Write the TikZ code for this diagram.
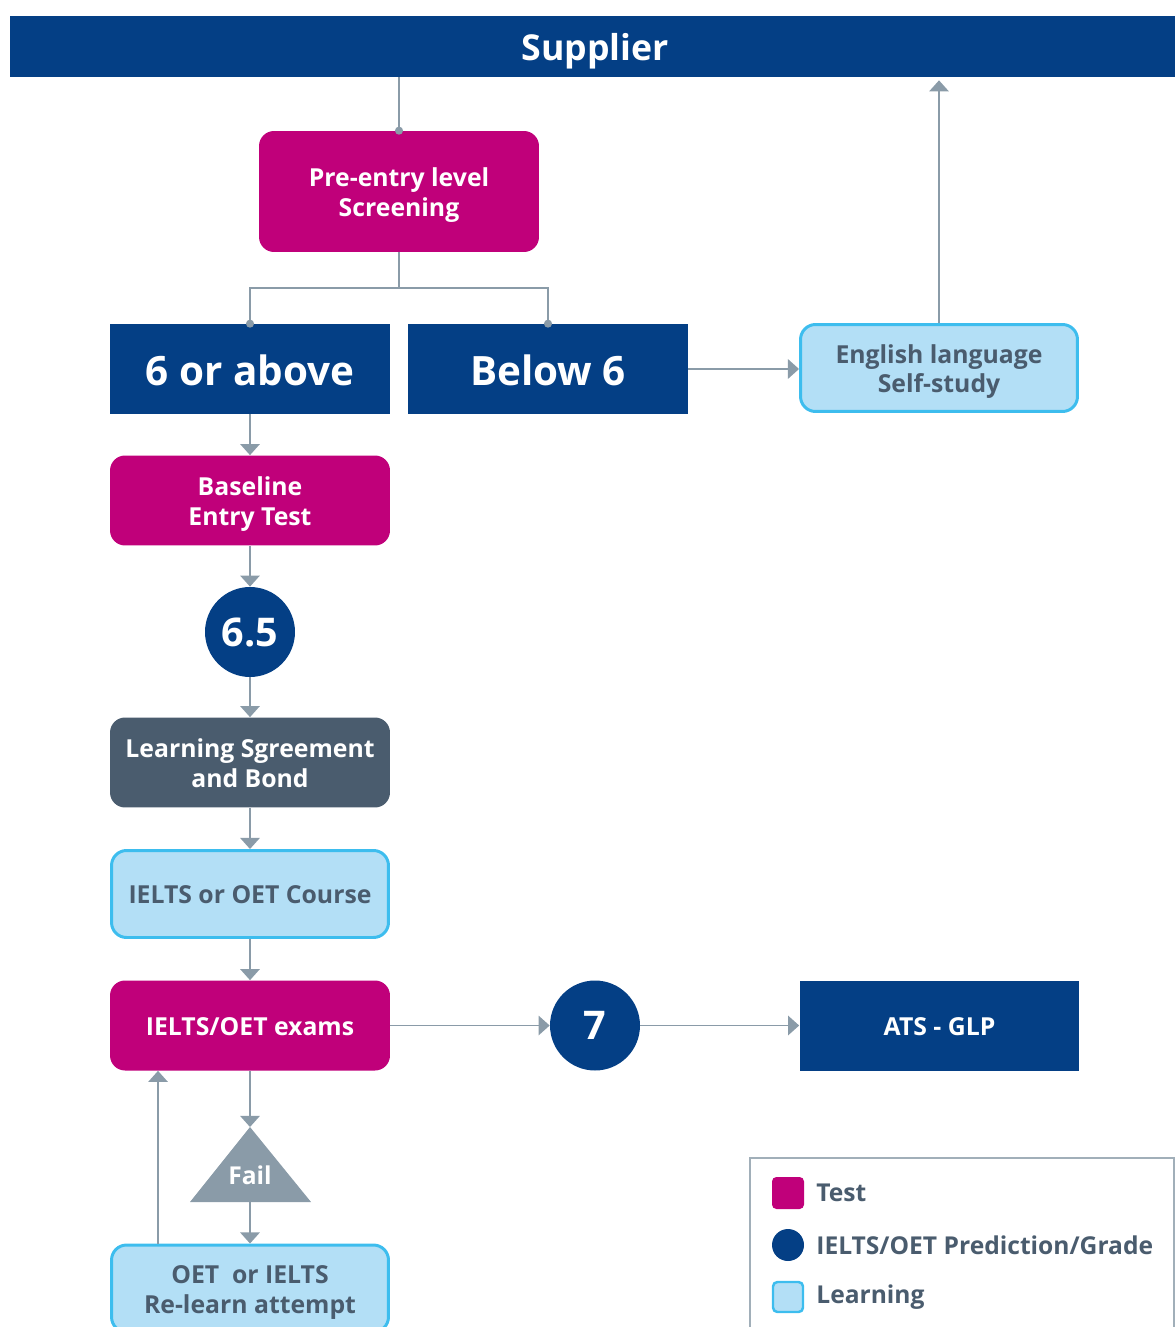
\documentclass[tikz,border=0pt]{standalone}
\usepackage{fontspec}
\setmainfont{Open Sans}
\usetikzlibrary{arrows.meta}
\definecolor{testmag}{HTML}{C0007A}
\definecolor{gradenavy}{HTML}{043F85}
\definecolor{agreeslate}{HTML}{4A5C6E}
\definecolor{learnfill}{HTML}{B3DFF6}
\definecolor{learnedge}{HTML}{3DBDEE}
\definecolor{linegray}{HTML}{8A9BA8}
\definecolor{textslate}{HTML}{4A5C6E}

\begin{document}
\begin{tikzpicture}[x=0.02cm, y=-0.02cm,
    box/.style={rectangle, minimum width=5.6cm, minimum height=1.8cm, inner sep=0pt, text width=5.5cm, align=flush center,
      font=\bfseries\fontsize{14.1}{16.8}\selectfont,
      execute at begin node={\parindent0pt\rule{0pt}{1.1em}}, execute at end node={\rule[-0.3em]{0pt}{0pt}}},
    testbox/.style={box, fill=testmag, text=white, rounded corners=0.3cm},
    gradebox/.style={box, fill=gradenavy, text=white},
    agreebox/.style={box, fill=agreeslate, text=white, rounded corners=0.3cm},
    learnbox/.style={box, fill=learnfill, draw=learnedge, line width=1.7pt, text=textslate, rounded corners=0.3cm, minimum width=5.54cm, minimum height=1.74cm},
    gradecirc/.style={circle, fill=gradenavy, text=white, minimum size=1.8cm, inner sep=0pt, font=\bfseries\fontsize{22.5}{24}\selectfont},
    conn/.style={draw=linegray, line width=1.1pt},
    arr/.style={conn, -{Triangle[width=11pt, length=6.3pt]}},
    legtext/.style={anchor=west, text=textslate, inner sep=0pt, font=\bfseries\fontsize{14}{17}\selectfont}
  ]
  \useasboundingbox (0,0) rectangle (1175,1327);

  % top bar
  \node[gradebox, minimum width=23.4cm, minimum height=1.22cm, font=\bfseries\fontsize{20.3}{22}\selectfont] (supplier) at (595,46.5) {Supplier};

  % screening and split
  \node[testbox, minimum height=2.42cm] (pre) at (399,191.5) {Pre-entry level\\Screening};
  \node[gradebox, font=\bfseries\fontsize{23}{26}\selectfont] (above) at (250,369) {6 or above};
  \node[gradebox, font=\bfseries\fontsize{23}{26}\selectfont] (below) at (548,369) {Below 6};
  \node[learnbox] (self) at (939,368) {English language\\Self-study};

  % main column
  \node[testbox] (base) at (250,500.5) {Baseline\\Entry Test};
  \node[gradecirc] (c65) at (250,632) {6.5};
  \node[agreebox] (agree) at (250,762.5) {Learning Sgreement\\and Bond};
  \node[learnbox] (course) at (250,894) {IELTS or OET Course};
  \node[testbox] (exams) at (250,1025.5) {IELTS/OET exams};
  \node[gradecirc] (c7) at (595,1025.5) {7};
  \node[gradebox] (ats) at (939.5,1025.5) {ATS - GLP};

  % fail branch
  \fill[linegray] (250,1127) -- (311,1202) -- (190,1202) -- cycle;
  \coordinate (failtop) at (250,1127);
  \coordinate (failbot) at (250,1202);
  \node[text=white, font=\bfseries\fontsize{14}{16}\selectfont] (fail) at (250,1175.5) {Fail};
  \node[learnbox] (relearn) at (250,1288.5) {OET\ \ or IELTS\\Re-learn attempt};

  % connectors
  \draw[conn] (pre.north |- supplier.south) -- (pre.north);
  \fill[linegray] (pre.north) circle[radius=2.3pt];
  \draw[conn] (pre.south) -- ++(0,36) coordinate (split) -| (above.north);
  \draw[conn] (split) -| (below.north);
  \fill[linegray] (above.north) circle[radius=2.3pt];
  \fill[linegray] (below.north) circle[radius=2.3pt];
  \draw[arr] (below.east) -- (below.east -| self.west);
  \draw[arr, shorten >=1.7pt] (self.north) -- (self.north |- supplier.south);
  \draw[arr] (above.south) -- (base.north);
  \draw[arr] (base.south) -- (c65.north);
  \draw[arr] (c65.south) -- (agree.north);
  \draw[arr] (agree.south) -- (course.north);
  \draw[arr] (course.south) -- (exams.north);
  \draw[arr] (exams.east) -- (c7.west);
  \draw[arr] (c7.east) -- (ats.west);
  \draw[arr] (exams.south) -- (failtop);
  \draw[arr] (failbot) -- (relearn.north);
  \draw[arr] ([xshift=-1.84cm]relearn.north) -- ([xshift=-1.84cm]exams.south);

  % legend
  \draw[linegray!80, line width=0.6pt] (750,1158) rectangle (1174,1345);
  \fill[testmag, rounded corners=2.5pt] (772,1177) rectangle (804,1209);
  \fill[gradenavy] (788,1245) circle[radius=0.32cm];
  \filldraw[fill=learnfill, draw=learnedge, line width=1.4pt, rounded corners=2.5pt] (773,1282) rectangle (803,1312);
  \node[legtext] (legtest) at (816,1193) {Test};
  \node[legtext] (leggrade) at (816,1245) {IELTS/OET Prediction/Grade};
  \node[legtext] (leglearn) at (816,1297) {Learning};
\end{tikzpicture}
\end{document}
